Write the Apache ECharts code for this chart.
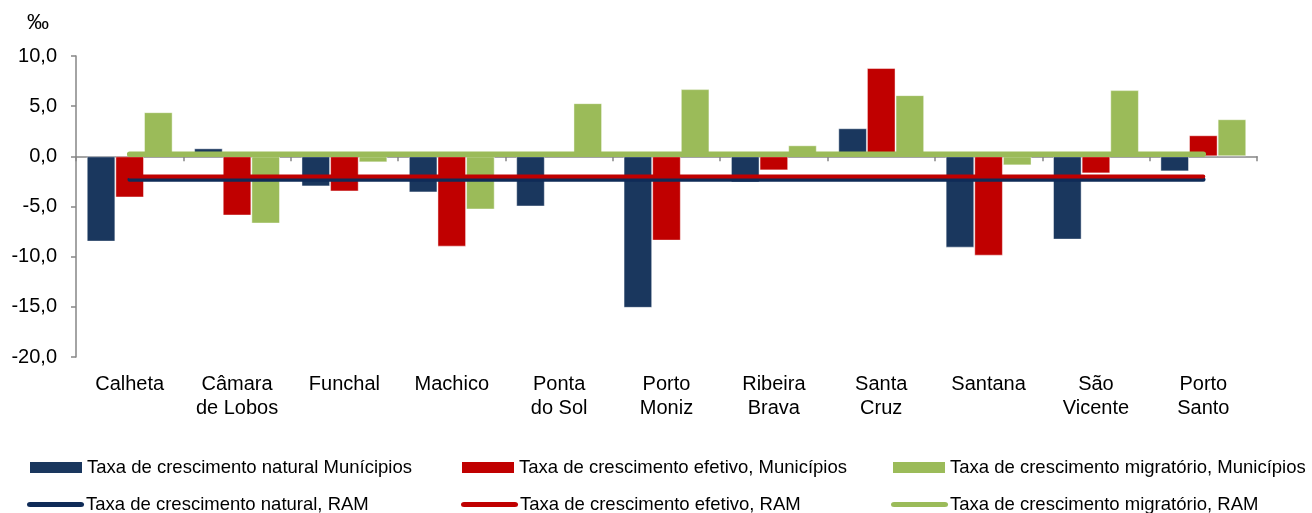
<!DOCTYPE html>
<html>
<head>
<meta charset="utf-8">
<script src="https://cdn.jsdelivr.net/npm/echarts@6/dist/echarts.min.js"></script>
<style>
  html, body { margin: 0; padding: 0; background: #fff; }
  #chart { width: 1312px; height: 513px; }
</style>
</head>
<body>
<div id="chart"></div>
<script>
// categories and values (‰)
var municipios = ['Calheta', 'Câmara\nde Lobos', 'Funchal', 'Machico', 'Ponta\ndo Sol', 'Porto\nMoniz',
  'Ribeira\nBrava', 'Santa\nCruz', 'Santana', 'São\nVicente', 'Porto\nSanto']
var natural = [-8.5, 0.8, -3.0, -3.6, -5.0, -15.1, -2.6, 2.8, -9.1, -8.3, -1.5]
var efetivo = [-4.1, -5.9, -3.5, -9.0, 0.3, -8.4, -1.4, 8.8, -9.9, -1.7, 2.1]
var migratorio = [4.4, -6.7, -0.6, -5.3, 5.3, 6.7, 1.1, 6.1, -0.9, 6.6, 3.7]
var naturalRAM = [-2.3, -2.3, -2.3, -2.3, -2.3, -2.3, -2.3, -2.3, -2.3, -2.3, -2.3]
var efetivoRAM = [-2.0, -2.0, -2.0, -2.0, -2.0, -2.0, -2.0, -2.0, -2.0, -2.0, -2.0]
var migratorioRAM = [0.2, 0.2, 0.2, 0.2, 0.2, 0.2, 0.2, 0.2, 0.2, 0.2, 0.2]
var yTicks = [-20, -15, -10, -5, 0, 5, 10]

var names = [
  'Taxa de crescimento natural Munícipios',
  'Taxa de crescimento efetivo, Municípios',
  'Taxa de crescimento migratório, Municípios',
  'Taxa de crescimento natural, RAM',
  'Taxa de crescimento efetivo, RAM',
  'Taxa de crescimento migratório, RAM'
]
var navy = '#1a375e'
var red = '#c00000'
var green = '#9bbb59'
var font = 'Liberation Sans, Arial, sans-serif'
var capsule = 'path://M3,0 L54,0 A3,3 0 0 1 54,6 L3,6 A3,3 0 0 1 3,0 Z'

function legendItem (name, left, top, isLine) {
  return {
    data: [name],
    left: left,
    top: top,
    padding: 0,
    itemWidth: isLine ? 57 : 52,
    itemHeight: isLine ? 5 : 11,
    icon: isLine ? capsule : 'rect',
    symbolKeepAspect: false,
    itemStyle: { borderWidth: 0 },
    textStyle: { fontFamily: font, fontSize: 18.5, color: '#000', padding: [0, 0, 0, isLine ? -3 : 0] }
  }
}

function barSeries (name, data, color) {
  return {
    name: name,
    type: 'bar',
    data: data,
    barGap: '0%',
    barCategoryGap: '20%',
    itemStyle: { color: color, borderColor: 'rgba(255,255,255,0.45)', borderWidth: 1 },
    z: 2
  }
}

function lineSeries (name, data, color, width, z) {
  return {
    name: name,
    type: 'line',
    data: data,
    symbol: 'none',
    lineStyle: { color: color, width: width, cap: 'round' },
    itemStyle: { color: color },
    z: z
  }
}

var chart = echarts.init(document.getElementById('chart'), null, { renderer: 'canvas' })
chart.setOption({
  animation: false,
  textStyle: { fontFamily: font },
  graphic: [{
    type: 'text', left: 27, top: 12,
    style: { text: '‰', font: '22px ' + font, fill: '#000' }
  }],
  legend: [
    legendItem(names[0], 30, 458, false),
    legendItem(names[1], 462, 458, false),
    legendItem(names[2], 893, 458, false),
    legendItem(names[3], 27, 495, true),
    legendItem(names[4], 461, 495, true),
    legendItem(names[5], 891, 495, true)
  ],
  grid: { left: 76, right: 55, top: 56, bottom: 156 },
  xAxis: [{
    type: 'category',
    data: municipios,
    axisLine: { onZero: true, lineStyle: { color: '#868686', width: 1.5 } },
    axisTick: { show: true, length: 5, lineStyle: { color: '#868686', width: 1.5 } },
    axisLabel: { show: false }
  }, {
    type: 'category',
    data: municipios,
    position: 'bottom',
    axisLine: { show: false, onZero: false },
    axisTick: { show: false },
    axisLabel: { fontSize: 20, lineHeight: 24, color: '#000', margin: 15, interval: 0, fontFamily: font }
  }],
  yAxis: {
    type: 'value',
    min: yTicks[0],
    max: yTicks[yTicks.length - 1],
    interval: 5,
    splitLine: { show: false },
    axisLine: { show: true, lineStyle: { color: '#868686', width: 1.5 } },
    axisTick: { show: true, length: 5, lineStyle: { color: '#868686', width: 1.5 } },
    axisLabel: {
      fontSize: 20, color: '#000', margin: 19, fontFamily: font,
      formatter: function (v) { return v.toFixed(1).replace('.', ',') }
    }
  },
  series: [
    barSeries(names[0], natural, navy),
    barSeries(names[1], efetivo, red),
    barSeries(names[2], migratorio, green),
    lineSeries(names[5], migratorioRAM, green, 5.5, 3),
    lineSeries(names[3], naturalRAM, '#0f2b57', 4.5, 4),
    lineSeries(names[4], efetivoRAM, red, 4, 5)
  ]
})
</script>
</body>
</html>
